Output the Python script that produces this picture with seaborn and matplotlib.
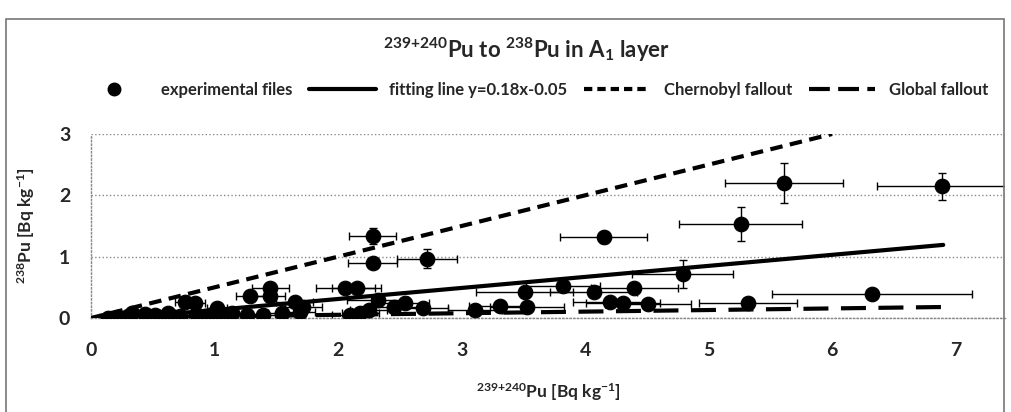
import numpy as np
import pandas as pd
import matplotlib
matplotlib.use("Agg")
import matplotlib.pyplot as plt
from matplotlib.lines import Line2D
from matplotlib.patches import Rectangle
import seaborn as sns

# experimental points (239+240Pu, 238Pu, errors)
pu239 = [2.28, 2.28, 2.72, 4.15, 5.26, 5.61, 6.89, 4.79, 6.32, 5.32,
         3.51, 3.82, 4.07, 4.40, 4.20, 4.31, 4.51, 3.53, 3.31, 3.11,
         2.54, 2.69, 2.45, 2.06, 2.15, 2.32, 2.10, 2.18, 2.25,
         1.45, 1.45, 1.29, 1.65, 1.72, 0.76, 0.84, 1.02, 1.14,
         0.14, 0.22, 0.33, 0.44, 0.52, 0.62, 0.72, 0.86, 0.99,
         1.26, 1.39, 1.55, 1.69, 0.30, 0.48, 0.61, 0.92, 1.10]
pu238 = [1.34, 0.90, 0.97, 1.32, 1.53, 2.20, 2.15, 0.72, 0.39, 0.24,
         0.42, 0.52, 0.42, 0.49, 0.26, 0.25, 0.23, 0.18, 0.20, 0.13,
         0.24, 0.16, 0.18, 0.49, 0.49, 0.29, 0.05, 0.08, 0.13,
         0.49, 0.36, 0.36, 0.26, 0.18, 0.26, 0.24, 0.16, 0.08,
         0.00, 0.02, 0.08, 0.06, 0.05, 0.08, 0.04, 0.05, 0.06,
         0.05, 0.05, 0.08, 0.10, 0.03, 0.02, 0.03, 0.04, 0.03]
pu239_err = [0.19, 0.20, 0.24, 0.35, 0.50, 0.48, 0.53, 0.41, 0.81, 0.40,
             0.39, 0.30, 0.35, 0.35, 0.30, 0.30, 0.35, 0.30, 0.25, 0.22,
             0.20, 0.20, 0.20, 0.24, 0.20, 0.25, 0.15, 0.15, 0.15,
             0.15, 0.12, 0.12, 0.15, 0.15, 0.08, 0.08, 0.08, 0.10,
             0.03, 0.03, 0.04, 0.05, 0.05, 0.06, 0.06, 0.07, 0.08,
             0.10, 0.10, 0.12, 0.12, 0.04, 0.05, 0.06, 0.08, 0.09]
pu238_err = [0.13, 0.04, 0.16, 0.09, 0.28, 0.32, 0.22, 0.23, 0.05, 0.05,
             0.08, 0.06, 0.08, 0.06, 0.04, 0.04, 0.05, 0.08, 0.05, 0.05,
             0.04, 0.08, 0.04, 0.05, 0.04, 0.06, 0.03, 0.03, 0.03,
             0.05, 0.04, 0.04, 0.04, 0.04, 0.03, 0.03, 0.03, 0.02,
             0.01, 0.01, 0.02, 0.02, 0.02, 0.02, 0.02, 0.02, 0.02,
             0.02, 0.02, 0.02, 0.03, 0.01, 0.01, 0.01, 0.02, 0.02]

# reference lines: slope, intercept, x range
fit_slope, fit_icpt, fit_range = 0.18, -0.05, [0.28, 6.9]
cher_slope, cher_range = 0.5, [0.0, 6.0]
glob_slope, glob_range = 0.026, [0.0, 6.9]

x_ticks = [0, 1, 2, 3, 4, 5, 6, 7]
y_ticks = [0, 1, 2, 3]

df = pd.DataFrame({"x": pu239, "y": pu238, "xe": pu239_err, "ye": pu238_err})

sns.set_theme(style="white")
plt.rcParams["font.family"] = ["Lato", "DejaVu Sans"]
plt.rcParams["mathtext.fontset"] = "custom"
plt.rcParams["mathtext.rm"] = "Lato"
plt.rcParams["mathtext.bf"] = "Lato:bold"
plt.rcParams["mathtext.default"] = "bf"

fig = plt.figure(figsize=(10.12, 4.12), dpi=100)
ax = fig.add_axes([91 / 1012, 94 / 412, 914 / 1012, 184 / 412])

fig.patches.append(Rectangle((6 / 1012, -0.01), 998 / 1012, 1 - 19 / 412 + 0.01,
                             transform=fig.transFigure, fill=False,
                             edgecolor="#777777", lw=1.2))

# error bars
ax.errorbar(df["x"], df["y"], xerr=df["xe"], yerr=df["ye"], fmt="none",
            ecolor="black", elinewidth=1, capsize=3, capthick=1, zorder=2)

sns.scatterplot(data=df, x="x", y="y", ax=ax, color="black", s=110,
                marker="o", edgecolor="black", zorder=3, legend=False)

def line_df(slope, icpt, xr):
    xs = np.array(xr)
    return pd.DataFrame({"x": xs, "y": slope * xs + icpt})

sns.lineplot(data=line_df(fit_slope, fit_icpt, fit_range), x="x", y="y", ax=ax,
             color="black", lw=3, zorder=4)
sns.lineplot(data=line_df(cher_slope, 0, cher_range), x="x", y="y", ax=ax,
             color="black", lw=3, zorder=4)
ax.lines[-1].set_dashes([3, 1.8])
sns.lineplot(data=line_df(glob_slope, 0, glob_range), x="x", y="y", ax=ax,
             color="black", lw=3, zorder=4)
ax.lines[-1].set_dashes([6, 3])

ax.set_xlim(0, 7.4)
ax.set_ylim(0, 3)
ax.set_xticks(x_ticks)
ax.set_yticks(y_ticks)
ax.tick_params(axis="x", labelsize=14, pad=17, length=3, color="#888888", direction="in")
ax.tick_params(axis="y", labelsize=14, pad=12, length=3, color="#888888")
for lab in ax.get_xticklabels() + ax.get_yticklabels():
    lab.set_fontweight("bold")
ax.yaxis.grid(True, linestyle=":", color="#888888", lw=1)
for s in ["top", "right"]:
    ax.spines[s].set_visible(False)
for s in ["left", "bottom"]:
    ax.spines[s].set_color("#888888")
    ax.spines[s].set_linestyle(":")
    ax.spines[s].set_linewidth(1)

ax.set_xlabel(r"$^{239{+}240}$Pu [Bq kg$^{-1}$]", fontsize=12.5, fontweight="bold", labelpad=16)
ax.set_ylabel(r"$^{238}$Pu [Bq kg$^{-1}$]", fontsize=12.5, fontweight="bold", labelpad=16)

fig.text(0.52, 1 - 50 / 412, r"$^{239{+}240}$Pu to $^{238}$Pu in A$_1$ layer",
         ha="center", va="center", fontsize=16, fontweight="bold")

handles = [
    Line2D([], [], marker="o", color="black", lw=0, markersize=9),
    Line2D([], [], color="black", lw=3),
    Line2D([], [], color="black", lw=3, dashes=[2, 1.2]),
    Line2D([], [], color="black", lw=3, dashes=[5, 2]),
]
labels = ["experimental files", "fitting line y=0.18x-0.05",
          "Chernobyl fallout", "Global fallout"]
fig.legend(handles, labels, loc="center", bbox_to_anchor=(0.528, 1 - 90 / 412),
           ncol=4, frameon=False, handlelength=4, columnspacing=1.0,
           prop={"weight": "bold", "size": 12})

fig.savefig("out.png", dpi=100)
